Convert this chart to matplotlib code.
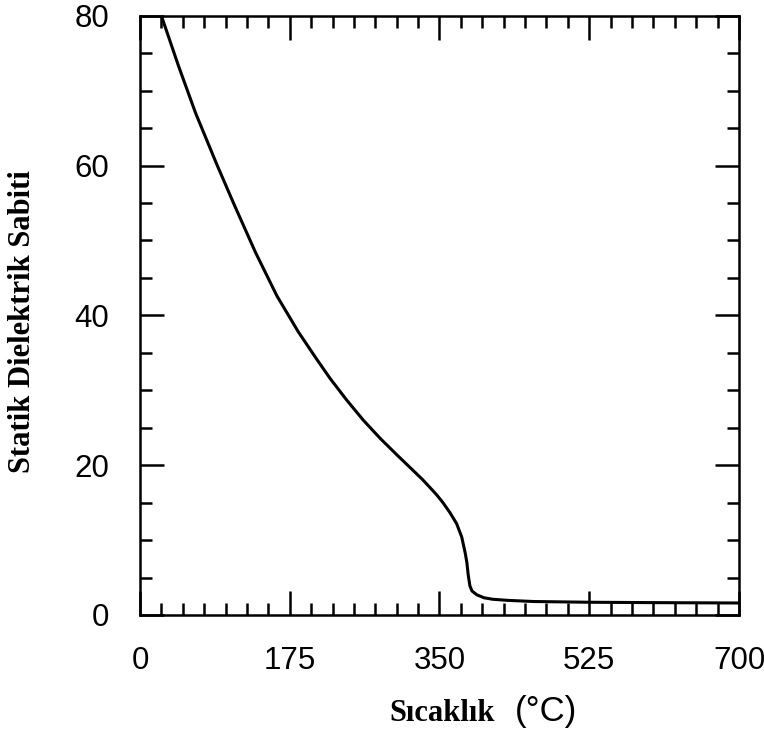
import matplotlib
matplotlib.use("Agg")
import matplotlib.pyplot as plt
from matplotlib.ticker import MultipleLocator

# static dielectric constant of water vs temperature
sicaklik = [25, 45, 65, 89.6, 110, 135, 160, 185, 205, 222, 241.5, 261, 280.5,
            300, 320, 330, 339, 347, 354, 362, 370, 376, 380, 382, 383.5, 385.5,
            388, 393.5, 402, 412, 430, 460, 525, 600, 700]
dielektrik = [80, 73.3, 67.0, 60.2, 54.8, 48.4, 42.6, 37.8, 34.4, 31.6, 28.7, 26.0,
              23.6, 21.4, 19.2, 18.1, 17.0, 16.0, 15.0, 13.7, 12.2, 10.4, 8.3, 7.0,
              5.4, 3.9, 3.2, 2.7, 2.3, 2.1, 1.95, 1.8, 1.7, 1.65, 1.6]

x_ticks = [0, 175, 350, 525, 700]
y_ticks = [0, 20, 40, 60, 80]

fig = plt.figure(figsize=(7.64, 7.33), dpi=100)
ax = fig.add_axes([0.1832, 0.161, 0.7841, 0.8176])

ax.plot(sicaklik, dielektrik, color="black", lw=2.2,
        solid_joinstyle="round", solid_capstyle="round")

ax.set_xlim(0, 700)
ax.set_ylim(0, 80)
ax.set_xticks(x_ticks)
ax.set_yticks(y_ticks)
ax.xaxis.set_minor_locator(MultipleLocator(25))
ax.yaxis.set_minor_locator(MultipleLocator(5))

ax.tick_params(which="both", direction="in", top=True, right=True,
               labeltop=False, labelright=False, width=1.8, color="black")
ax.tick_params(which="major", length=17, pad=22,
               labelsize=22.5, labelfontfamily="Liberation Sans")
ax.tick_params(which="minor", length=8.5)
for s in ax.spines.values():
    s.set_linewidth(1.8)

fig.text(0.029, 0.561, "Statik Dielektrik Sabiti", rotation=90,
         ha="center", va="center", family="Liberation Serif",
         fontweight="bold", fontsize=22)
fig.text(0.648, 0.0168, "Sıcaklık", ha="right", va="baseline",
         family="Liberation Serif", fontweight="bold", fontsize=22)
fig.text(0.674, 0.0168, "(°C)", ha="left", va="baseline",
         family="Liberation Sans", fontsize=25)

fig.savefig("out.png", dpi=100)
